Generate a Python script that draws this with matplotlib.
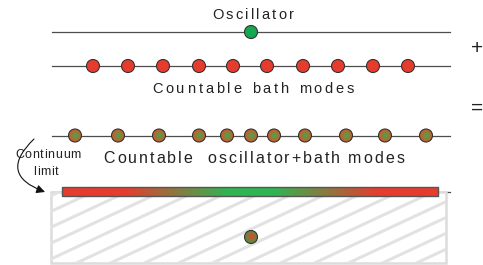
import numpy as np
import matplotlib
matplotlib.use("Agg")
import matplotlib.pyplot as plt
from matplotlib.patches import Circle, Rectangle, FancyArrowPatch
from matplotlib.colors import to_rgb
from matplotlib.font_manager import FontProperties, findfont, get_font

# ---- data (positions along the frequency axis, in pixels) ----
oscillator_pos = [251]
bath_modes = [93, 128, 163, 199, 233, 267, 303, 338, 373, 408]
mixed_modes = [75, 118, 159, 199, 227, 251, 274, 305, 346, 385, 426]
continuum_peak = 251

labels = ["Oscillator", "Countable bath modes",
          "Countable  oscillator+bath modes", "Continuum", "limit"]

RED = "#e63c2e"
GREEN = "#14a850"
LINE = "#4d4d4d"
EDGE = "#333333"
TXT = "#222222"
FONT = "Liberation Sans"
R = 6.5

fig = plt.figure(figsize=(4.83, 2.65), dpi=100)
ax = fig.add_axes([0, 0, 1, 1])


def spaced_text(xc, y, s, size, width):
    prop = FontProperties(family=FONT, size=size)
    font = get_font(findfont(prop))
    font.set_size(size, 100)
    advs = [font.load_char(ord(c)).linearHoriAdvance / 65536 for c in s]
    track = (width - sum(advs)) / (len(s) - 1)
    x = xc - width / 2
    for c, a in zip(s, advs):
        ax.text(x, y, c, fontproperties=prop, ha="left", va="baseline", color=TXT)
        x += a + track


def grad_dot(x, y, inner, outer):
    n = 41
    g = np.linspace(-1, 1, n)
    xx, yy = np.meshgrid(g, g)
    rr = np.clip(np.sqrt(xx ** 2 + yy ** 2), 0, 1)[..., None]
    img = (1 - rr) * np.array(to_rgb(inner)) + rr * np.array(to_rgb(outer))
    im = ax.imshow(img, extent=(x - R, x + R, y + R, y - R), zorder=4,
                   interpolation="bilinear")
    c = Circle((x, y), R, transform=ax.transData)
    im.set_clip_path(c)
    ax.add_patch(Circle((x, y), R, fc="none", ec=EDGE, lw=0.8, zorder=5))


x0, x1 = 52, 450
rows = [32, 66, 135.5, 191.5]
for yr in rows:
    ax.plot([x0, x1], [yr, yr], color=LINE, lw=0.9, zorder=1)

# oscillator
for x in oscillator_pos:
    ax.add_patch(Circle((x, rows[0]), R, fc=GREEN, ec=EDGE, lw=0.8, zorder=5))
# bath
for x in bath_modes:
    ax.add_patch(Circle((x, rows[1]), R, fc=RED, ec=EDGE, lw=0.8, zorder=5))
# mixed
for x in mixed_modes:
    grad_dot(x, rows[2], "#3aac4c", "#d4572c")

# hatched box
bx0, by0, bx1, by1 = 51, 192, 446, 263
box = Rectangle((bx0, by0), bx1 - bx0, by1 - by0, fc="white", ec="#dcdcdc",
                lw=1.8, zorder=2)
ax.add_patch(box)
slope = np.tan(np.radians(25))
for c in np.arange(bx0 - 200, bx1 + 40, 34):
    ln, = ax.plot([c, c + 220], [by1 + 10, by1 + 10 - 220 * slope],
                  color="#e2e2e2", lw=2.2, zorder=2.5)
    ln.set_clip_path(box)

# continuum bar
cx0, cx1, cy0, cy1 = 62, 438, 187, 196
xs = np.linspace(cx0, cx1, 400)
d = np.abs(xs - continuum_peak) / (continuum_peak - cx0)
w = np.clip((d - 0.12) / 0.55, 0, 1)[:, None]
bar = (1 - w) * np.array(to_rgb("#2fb552")) + w * np.array(to_rgb(RED))
ax.imshow(bar[None, :, :], extent=(cx0, cx1, cy1, cy0), aspect="auto",
          zorder=3, interpolation="bilinear")
ax.add_patch(Rectangle((cx0, cy0), cx1 - cx0, cy1 - cy0, fc="none",
                       ec="#555555", lw=1.0, zorder=3.5))

grad_dot(continuum_peak, 237, "#e8452e", "#4f9040")

# text
spaced_text(253, 19, labels[0], 10.5, 82)
spaced_text(253, 93, labels[1], 10.5, 202)
spaced_text(254, 163, labels[2], 11.5, 301)
spaced_text(48, 158, labels[3], 9, 66)
spaced_text(46, 175, labels[4], 9, 25)
ax.text(477, 48, "+", fontsize=15, family=FONT, ha="center", va="center", color=TXT)
ax.text(477, 108, "=", fontsize=15, family=FONT, ha="center", va="center", color=TXT)

arr = FancyArrowPatch((34, 139), (45, 192), connectionstyle="arc3,rad=0.8",
                      arrowstyle="-|>,head_length=5,head_width=2.5",
                      color="#111111", lw=0.8, zorder=6, shrinkA=0, shrinkB=0)
ax.add_patch(arr)

ax.set_xlim(0, 483)
ax.set_ylim(265, 0)
ax.set_aspect("auto")
ax.axis("off")
fig.savefig("out.png", dpi=100)
